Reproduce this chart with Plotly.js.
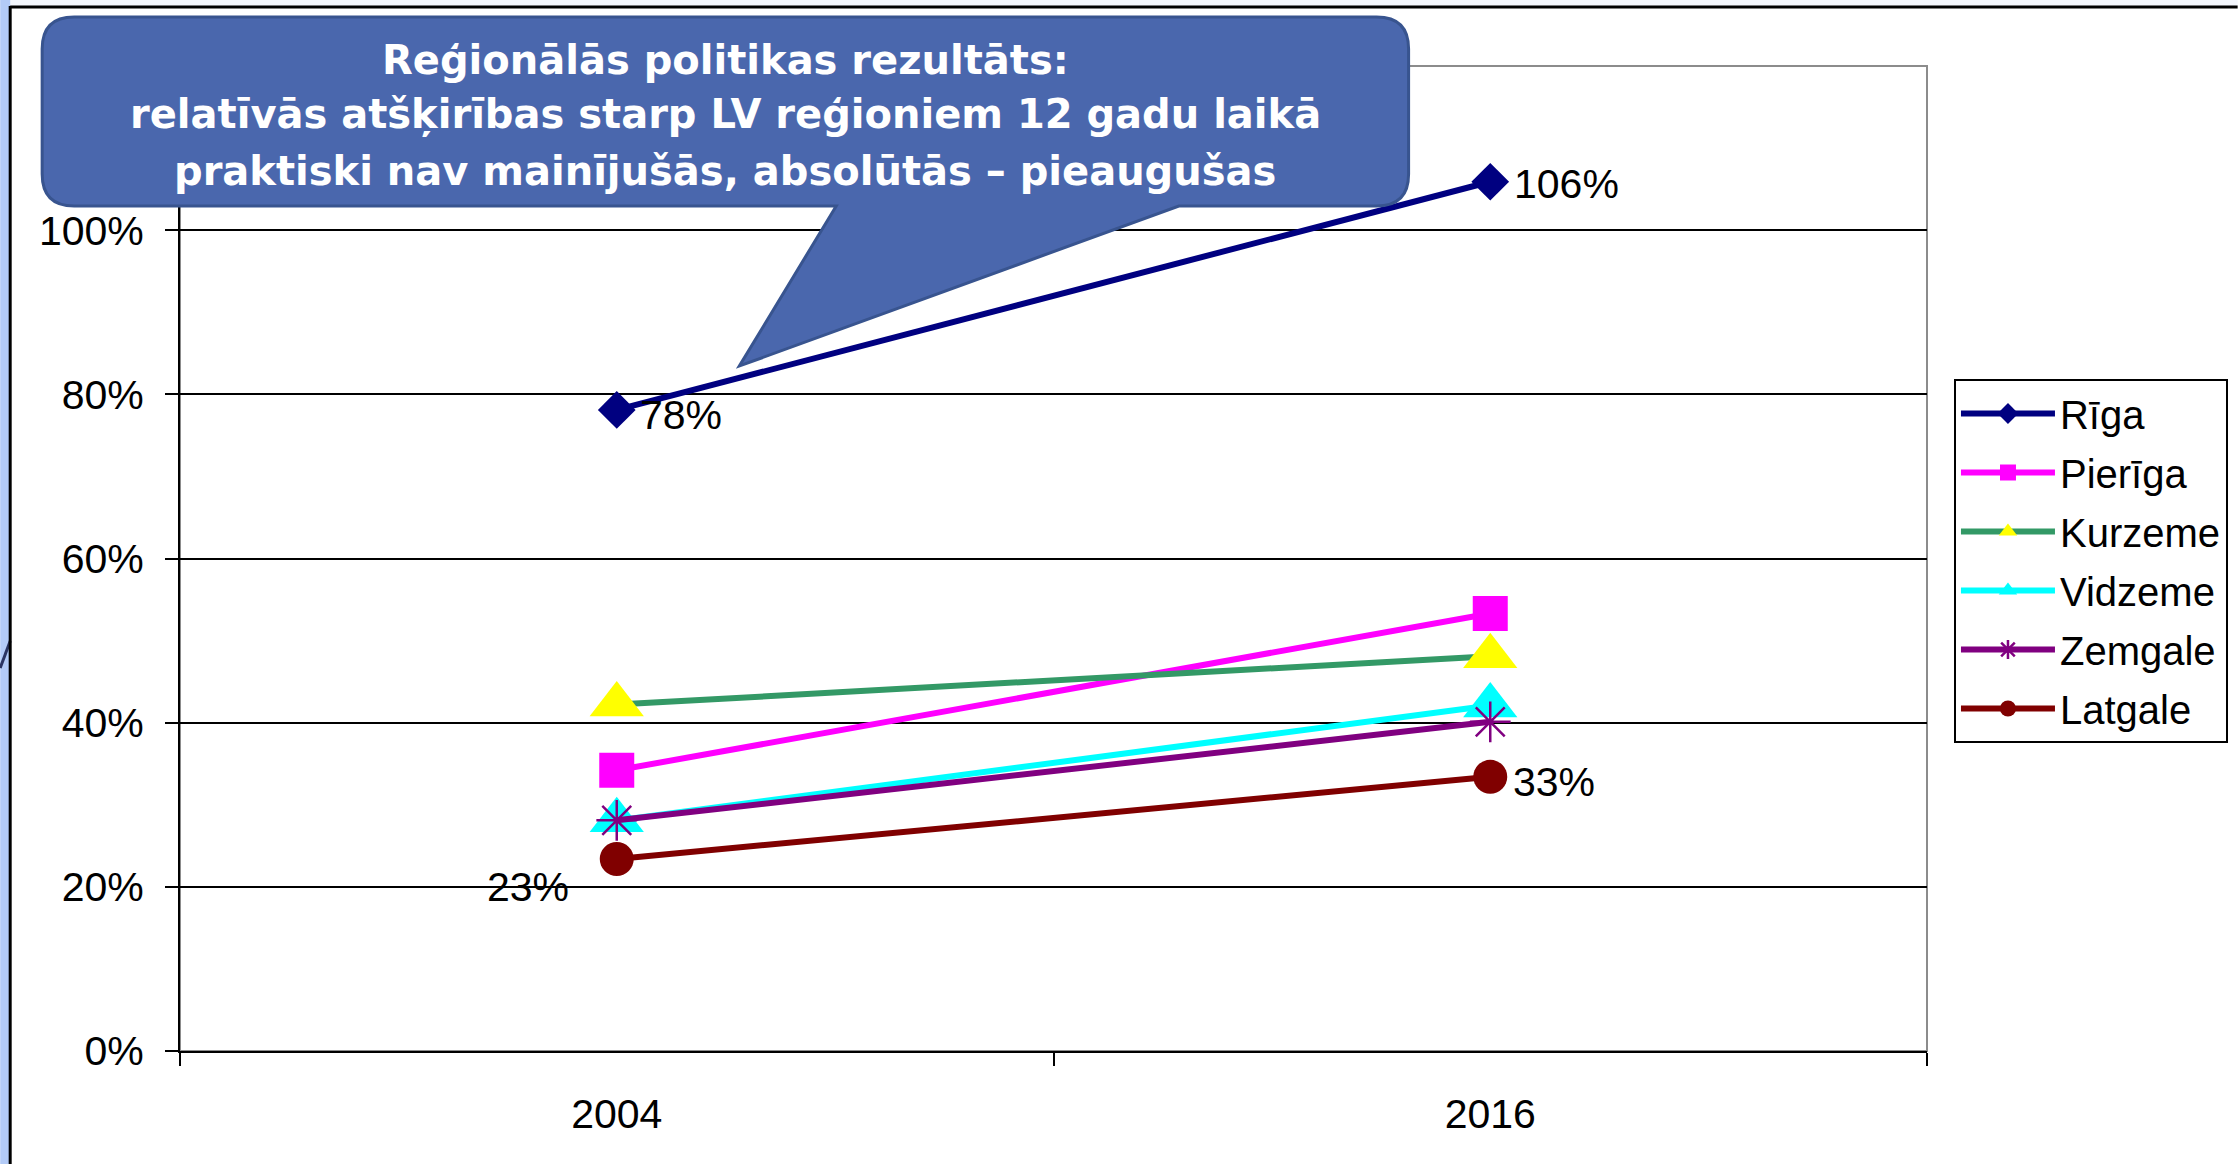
<!DOCTYPE html>
<html>
<head>
<meta charset="utf-8">
<script src="https://cdn.plot.ly/plotly-3.0.1.min.js"></script>
<style>html,body{margin:0;padding:0;background:#fff;}#chart{width:2240px;height:1164px;}</style>
</head>
<body>
<div id="chart"></div>
<script>
// ---- data ----
const categories = ['2004', '2016'];
const seriesNames = ['Rīga', 'Pierīga', 'Kurzeme', 'Vidzeme', 'Zemgale', 'Latgale'];
const riga    = [0.781, 1.059];
const pieriga = [0.342, 0.533];
const kurzeme = [0.422, 0.481];
const vidzeme = [0.281, 0.421];
const zemgale = [0.281, 0.401];
const latgale = [0.234, 0.334];
const yTickVals = [0, 0.2, 0.4, 0.6, 0.8, 1.0];
const calloutLines = [
  'Reģionālās politikas rezultāts:',
  'relatīvās atšķirības starp LV reģioniem 12 gadu laikā',
  'praktiski nav mainījušās, absolūtās – pieaugušas'
];

// ---- geometry helpers (pixel -> paper) ----
const W = 2240, H = 1164;
const PL = 180, PR = 1929, PT = 66, PB = 1051;
const px = x => (x - PL) / (PR - PL);
const py = y => (PB - y) / (PB - PT);
const pct = v => Math.round(v * 100) + '%';

const FONT = 'Liberation Sans, Arial, sans-serif';

function trace(name, y, lineColor, marker) {
  return {
    type: 'scatter', mode: 'lines+markers',
    name: name, x: categories, y: y,
    line: {color: lineColor, width: 6},
    marker: marker,
    cliponaxis: false,
    legendgroup: name,
    hoverinfo: 'skip'
  };
}

const data = [
  trace(seriesNames[0], riga, '#000080', {symbol: 'diamond', size: 29, color: '#000080'}),
  trace(seriesNames[1], pieriga, '#FF00FF', {symbol: 'square', size: 35, color: '#FF00FF'}),
  trace(seriesNames[2], kurzeme, '#339966', {symbol: 'triangle-up', size: 47, color: '#FFFF00'}),
  trace(seriesNames[3], vidzeme, '#00FFFF', {symbol: 'triangle-up', size: 47, color: '#00FFFF'}),
  trace(seriesNames[4], zemgale, '#800080', {symbol: 'asterisk-open', size: 34, color: '#800080', line: {color: '#800080', width: 2.5}}),
  trace(seriesNames[5], latgale, '#800000', {symbol: 'circle', size: 34, color: '#800000'})
];

// data labels (text from the data values); x given as category index
const labelFont = {family: FONT, size: 41, color: '#000'};
function dataLabel(ci, v, xanchor, xshift, yshift) {
  return {xref: 'x', yref: 'y', x: ci, y: v, text: pct(v), showarrow: false,
    xanchor: xanchor, yanchor: 'middle', xshift: xshift, yshift: yshift, font: labelFont};
}
const labelAnnotations = [
  dataLabel(0, riga[0], 'left', 21, -5),
  dataLabel(1, riga[1], 'left', 22, -2),
  dataLabel(0, latgale[0], 'right', -46, -28),
  dataLabel(1, latgale[1], 'left', 21, -5)
];

// callout path
const cx0 = 42, cx1 = 1410, cy0 = 17, cy1 = 206, cr = 32;
const tailL = 837, tailR = 1180, tipX = 740, tipY = 366;
function P(x, y) { return px(x).toFixed(5) + ',' + py(y).toFixed(5); }
const calloutPath =
  'M' + P(cx0 + cr, cy0) +
  ' L' + P(cx1 - cr, cy0) +
  ' Q' + P(cx1, cy0) + ' ' + P(cx1, cy0 + cr) +
  ' L' + P(cx1, cy1 - cr) +
  ' Q' + P(cx1, cy1) + ' ' + P(cx1 - cr, cy1) +
  ' L' + P(tailR, cy1) +
  ' L' + P(tipX, tipY) +
  ' L' + P(tailL, cy1) +
  ' L' + P(cx0 + cr, cy1) +
  ' Q' + P(cx0, cy1) + ' ' + P(cx0, cy1 - cr) +
  ' L' + P(cx0, cy0 + cr) +
  ' Q' + P(cx0, cy0) + ' ' + P(cx0 + cr, cy0) + ' Z';

const lineCentersY = [60, 114, 171];
const calloutAnnotations = calloutLines.map((t, i) => ({
  xref: 'paper', yref: 'paper', x: px(726), y: py(lineCentersY[i]),
  xanchor: 'center', yanchor: 'middle', showarrow: false,
  text: t,
  font: {family: 'DejaVu Sans, sans-serif', size: 40, color: '#ffffff', weight: 700}
}));

const shapes = [
  {type: 'rect', xref: 'paper', yref: 'paper', x0: px(0), x1: px(W), y0: py(7), y1: py(0), fillcolor: '#f4f7fd', line: {width: 0}, layer: 'below'},
  {type: 'rect', xref: 'paper', yref: 'paper', x0: px(0), x1: px(10), y0: py(H), y1: py(0), fillcolor: '#b3cbf7', line: {width: 0}, layer: 'below'},
  {type: 'line', xref: 'paper', yref: 'paper', x0: px(0), y0: py(668), x1: px(10), y1: py(641), line: {color: '#2b3562', width: 3}, layer: 'above'},
  {type: 'line', xref: 'paper', yref: 'paper', x0: px(10), y0: py(7), x1: px(W), y1: py(7), line: {color: '#000', width: 3}, layer: 'above'},
  {type: 'line', xref: 'paper', yref: 'paper', x0: px(10), y0: py(6), x1: px(10), y1: py(H), line: {color: '#000', width: 3}, layer: 'above'},
  {type: 'rect', xref: 'paper', yref: 'paper', x0: 0, x1: 1, y0: 0, y1: 1, line: {color: '#8c8c8c', width: 2}, fillcolor: 'rgba(0,0,0,0)', layer: 'below'},
  {type: 'path', xref: 'paper', yref: 'paper', path: calloutPath, fillcolor: '#4a67ad', line: {color: '#38548f', width: 3}, layer: 'above'}
];

const layout = {
  width: W, height: H,
  margin: {l: PL, r: W - PR, t: PT, b: H - PB, pad: 0},
  paper_bgcolor: '#ffffff', plot_bgcolor: '#ffffff',
  showlegend: true,
  legend: {
    x: px(1956), y: py(379), xanchor: 'left', yanchor: 'top',
    bgcolor: '#ffffff', bordercolor: '#000000', borderwidth: 2,
    font: {family: FONT, size: 40, color: '#000'},
    traceorder: 'grouped', tracegroupgap: 4, itemsizing: 'trace', itemwidth: 94
  },
  xaxis: {
    type: 'category', categoryorder: 'array', categoryarray: categories,
    range: [-0.5, 1.5], tickson: 'boundaries',
    ticks: 'outside', ticklen: 13, tickwidth: 2, tickcolor: '#000',
    showline: true, linecolor: '#000', linewidth: 2, showgrid: false, zeroline: false,
    tickfont: {family: FONT, size: 41, color: '#000'}, ticklabelstandoff: 26,
    fixedrange: true
  },
  yaxis: {
    range: [0, 1.2], tickvals: yTickVals, tickformat: '.0%',
    ticks: 'outside', ticklen: 13, tickwidth: 2, tickcolor: '#000',
    showline: true, linecolor: '#000', linewidth: 2,
    showgrid: true, gridcolor: '#000', gridwidth: 2, zeroline: false,
    tickfont: {family: FONT, size: 41, color: '#000'}, ticklabelstandoff: 13,
    fixedrange: true
  },
  shapes: shapes,
  annotations: labelAnnotations.concat(calloutAnnotations)
};

Plotly.newPlot('chart', data, layout, {displayModeBar: false, staticPlot: true});
</script>
</body>
</html>
